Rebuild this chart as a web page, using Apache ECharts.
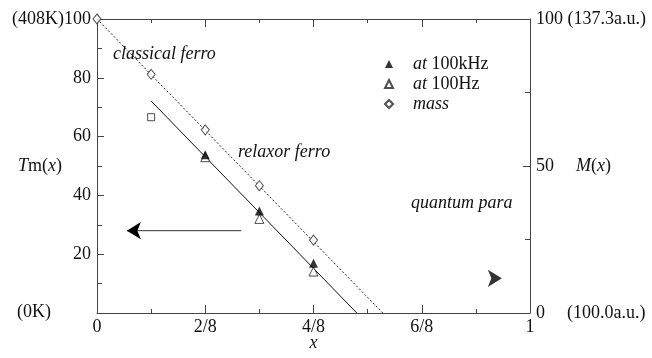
<!DOCTYPE html>
<html>
<head>
<meta charset="utf-8">
<script src="https://cdn.jsdelivr.net/npm/echarts@6/dist/echarts.min.js"></script>
<style>html,body{margin:0;padding:0;background:#fff;}#c{width:652px;height:358px;}</style>
</head>
<body>
<div id="c"></div>
<script>
// x positions (fraction of 1)
const xTickLabels = {0: '0', 0.25: '2/8', 0.5: '4/8', 0.75: '6/8', 1: '1'};
// at 100kHz (filled triangles)
const khzX = [0.25, 0.375, 0.5];
const khzY = [53.8, 34.7, 16.9];
// at 100Hz (open triangles)
const hzX = [0.25, 0.375, 0.5];
const hzY = [53.0, 32.0, 14.1];
// mass (open diamonds, right axis M(x))
const massX = [0, 0.125, 0.25, 0.375, 0.5];
const massY = [100, 81.2, 62.3, 43.3, 24.8];
// extra open square
const squareX = [0.125];
const squareY = [66.6];
// solid fit line
const fitSolidX = [0.125, 0.600];
const fitSolidY = [72.1, 0];
// dotted fit line
const fitDotX = [0, 0.66];
const fitDotY = [100, 0];
// arrows
const arrowLeftX = [0.333, 0.069];
const arrowLeftY = [28, 28];
const arrowRightX = [0.935];
const arrowRightY = [11.8];

const FONT = 'Liberation Serif';
const FS = 18;
const AX = '#444';
const zip = (a, b) => a.map((v, i) => [v, b[i]]);

const chart = echarts.init(document.getElementById('c'));
const xAxisBase = {
  type: 'value', min: 0, max: 1, interval: 0.25,
  axisLine: {show: true, onZero: false, lineStyle: {color: AX, width: 1}},
  axisTick: {show: true, inside: true, length: 8, lineStyle: {color: AX}},
  minorTick: {show: true, splitNumber: 2, length: 4, lineStyle: {color: AX}},
  splitLine: {show: false}, minorSplitLine: {show: false}
};
const yAxisBase = {
  type: 'value', min: 0, max: 100,
  axisLine: {show: true, onZero: false, lineStyle: {color: AX, width: 1}},
  axisTick: {show: true, inside: true, length: 7, lineStyle: {color: AX}},
  minorTick: {show: true, splitNumber: 2, length: 5, lineStyle: {color: AX}},
  splitLine: {show: false}, minorSplitLine: {show: false}
};
const nameStyle = {fontFamily: FONT, fontSize: FS, color: '#111', rich: {i: {fontStyle: 'italic', fontFamily: FONT, fontSize: FS, color: '#111'}}};

chart.setOption({
  animation: false,
  backgroundColor: '#fff',
  textStyle: {fontFamily: FONT, color: '#111'},
  grid: {left: 97, right: 122, top: 19, bottom: 45, containLabel: false, outerBoundsMode: 'none'},
  xAxis: [
    Object.assign({}, xAxisBase, {
      position: 'bottom',
      name: '{i|x}', nameLocation: 'middle', nameGap: 21, nameMoveOverlap: false,
      nameTextStyle: nameStyle,
      axisLabel: {show: true, margin: 5, fontFamily: FONT, fontSize: FS, color: '#111',
        formatter: v => (xTickLabels[v] !== undefined ? xTickLabels[v] : '')}
    }),
    Object.assign({}, xAxisBase, {position: 'top', axisLabel: {show: false}})
  ],
  yAxis: [
    Object.assign({}, yAxisBase, {
      position: 'left', interval: 20,
      name: '{i|T}m({i|x})', nameLocation: 'middle', nameRotate: 0, nameGap: 35, nameMoveOverlap: false,
      nameTextStyle: nameStyle,
      axisLabel: {margin: 6, fontFamily: FONT, fontSize: FS, color: '#111',
        formatter: v => (v === 100 ? '(408K)100' : v === 0 ? '' : String(v))}
    }),
    Object.assign({}, yAxisBase, {
      position: 'right', interval: 50,
      name: '{i|M}({i|x})', nameLocation: 'middle', nameRotate: 0, nameGap: 46, nameMoveOverlap: false,
      nameTextStyle: nameStyle,
      axisLabel: {margin: 6, fontFamily: FONT, fontSize: FS, color: '#111',
        formatter: v => (v === 100 ? '100 (137.3a.u.)' : v === 50 ? '50' : '0{p|(100.0a.u.)}'),
        rich: {p: {padding: [0, 0, 0, 22], fontFamily: FONT, fontSize: FS, color: '#111'}}}
    })
  ],
  legend: {
    orient: 'vertical', left: 384, top: 55, itemWidth: 8, itemHeight: 8, itemGap: 2, padding: 0,
    data: ['at 100kHz', 'at 100Hz', 'mass'],
    formatter: n => (n === 'mass' ? '{i|mass}' : '{i|at} ' + n.slice(3)),
    textStyle: {fontFamily: FONT, fontSize: FS, lineHeight: 18, color: '#111', padding: [0, 0, 0, 15],
      rich: {i: {fontStyle: 'italic', fontFamily: FONT, fontSize: FS, lineHeight: 18, color: '#111'}}}
  },
  graphic: [
    {type: 'text', left: 17, top: 303, style: {text: '(0K)', font: FS + 'px "' + FONT + '"', fill: '#111'}},
    {type: 'text', left: 113, top: 45, style: {text: 'classical ferro', font: 'italic ' + FS + 'px "' + FONT + '"', fill: '#111'}},
    {type: 'text', left: 238, top: 143, style: {text: 'relaxor ferro', font: 'italic ' + FS + 'px "' + FONT + '"', fill: '#111'}},
    {type: 'text', left: 411, top: 194, style: {text: 'quantum para', font: 'italic ' + FS + 'px "' + FONT + '"', fill: '#111'}}
  ],
  series: [
    {type: 'line', name: 'fitSolid', data: zip(fitSolidX, fitSolidY), showSymbol: false, symbol: 'none',
      lineStyle: {color: '#111', width: 1}, z: 2},
    {type: 'line', name: 'fitDot', data: zip(fitDotX, fitDotY), showSymbol: false, symbol: 'none',
      lineStyle: {color: '#222', width: 1, type: [2, 2]}, z: 2},
    {type: 'line', name: 'arrowL', data: [
        {value: [arrowLeftX[0], arrowLeftY[0]], symbol: 'none'},
        {value: [arrowLeftX[1], arrowLeftY[1]], symbol: 'arrow', symbolSize: [13, 14], symbolRotate: 90, symbolOffset: [0, 0]}
      ], lineStyle: {color: '#333', width: 1}, itemStyle: {color: '#000'}, z: 3},
    {type: 'scatter', name: 'arrowR', data: zip(arrowRightX, arrowRightY), symbol: 'arrow', symbolSize: [13, 14], symbolRotate: -90,
      itemStyle: {color: '#000'}, z: 3},
    {type: 'scatter', name: 'square', data: zip(squareX, squareY), symbol: 'rect', symbolSize: 7,
      itemStyle: {color: '#fff', borderColor: '#222', borderWidth: 1}, z: 4},
    {type: 'scatter', name: 'at 100Hz', data: zip(hzX, hzY), symbol: 'triangle', symbolSize: 9,
      itemStyle: {color: '#fff', borderColor: '#222', borderWidth: 1}, z: 4},
    {type: 'scatter', name: 'at 100kHz', data: zip(khzX, khzY), symbol: 'triangle', symbolSize: 9,
      itemStyle: {color: '#000'}, z: 5},
    {type: 'scatter', name: 'mass', yAxisIndex: 1, data: zip(massX, massY), symbol: 'diamond', symbolSize: [8, 10],
      itemStyle: {color: '#fff', borderColor: '#222', borderWidth: 1}, z: 5}
  ]
});
</script>
</body>
</html>
